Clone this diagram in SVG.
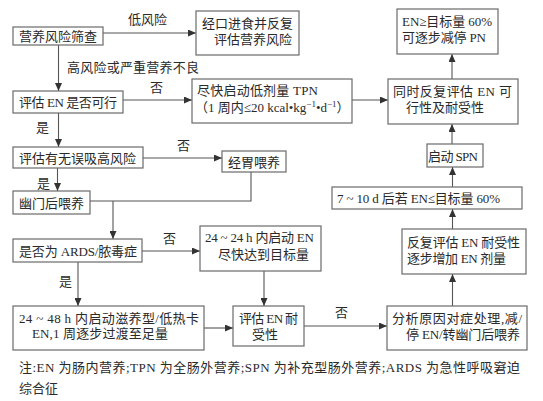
<svg xmlns="http://www.w3.org/2000/svg" width="543" height="401" viewBox="0 0 543 401">
<defs>
<marker id="arr" markerUnits="userSpaceOnUse" markerWidth="8" markerHeight="7" refX="8" refY="3.5" orient="auto">
<path d="M0,0 L8,3.5 L0,7 z" fill="#333"/>
</marker>
<style>
.box{fill:#fff;stroke:#6a6a6a;stroke-width:1.2}
.t{font-family:"Liberation Serif","Noto Sans CJK SC",serif;font-size:13px;fill:#2a2a2a}
.ln{fill:none;stroke:#555;stroke-width:1.1}
.ar{marker-end:url(#arr)}
</style>
</defs>
<rect width="543" height="401" fill="#fff"/>
<g id="connectors">
<path class="ln ar" d="M103,33 H196"/>
<path class="ln ar" d="M58.5,45 V91"/>
<path class="ln ar" d="M123,100 H192"/>
<path class="ln ar" d="M352,100 H388"/>
<path class="ln ar" d="M452,79 V54"/>
<path class="ln ar" d="M58.5,113 V147"/>
<path class="ln ar" d="M143,158 H222"/>
<path class="ln ar" d="M57.5,168 V191"/>
<path class="ln" d="M251,172 V201 H90"/>
<path class="ln ar" d="M113,201 V239"/>
<path class="ln ar" d="M142,251 H200"/>
<path class="ln ar" d="M78,262 V306"/>
<path class="ln ar" d="M264,271 V306"/>
<path class="ln ar" d="M204,328 H233"/>
<path class="ln ar" d="M304,326 H387"/>
<path class="ln ar" d="M452.5,306 V274"/>
<path class="ln ar" d="M452.5,229 V209"/>
<path class="ln ar" d="M452.5,187 V167"/>
<path class="ln ar" d="M452,144 V124"/>
<text class="t" x="128" y="24">低风险</text>
<text class="t" x="67" y="72" textLength="132" lengthAdjust="spacing">高风险或严重营养不良</text>
<text class="t" x="150" y="92">否</text>
<text class="t" x="36" y="132">是</text>
<text class="t" x="177" y="150">否</text>
<text class="t" x="37" y="188">是</text>
<text class="t" x="163" y="243">否</text>
<text class="t" x="59" y="286">是</text>
<text class="t" x="335" y="317">否</text>
</g>
<g id="n1"><rect class="box" x="13" y="27" width="90" height="18"/><text class="t" x="19" y="40.5">营养风险筛查</text></g>
<g id="n2"><rect class="box" x="196" y="11" width="103" height="44"/><text class="t" x="202" y="27.5">经口进食并反复</text><text class="t" x="214" y="44">评估营养风险</text></g>
<g id="n3"><rect class="box" x="13" y="91" width="110" height="22"/><text class="t" x="19" y="106.5" textLength="98" lengthAdjust="spacing">评估 EN 是否可行</text></g>
<g id="n4"><rect class="box" x="192" y="79" width="160" height="44"/><text class="t" x="197" y="95" textLength="121" lengthAdjust="spacing">尽快启动低剂量 TPN</text><text class="t" x="195" y="112">（1 周内≤20 kcal•kg<tspan font-size="9" dy="-5">−1</tspan><tspan dy="5">•d</tspan><tspan font-size="9" dy="-5">−1</tspan><tspan dy="5">）</tspan></text></g>
<g id="n5"><rect class="box" x="397" y="9" width="101" height="45"/><text class="t" x="402" y="26" textLength="90" lengthAdjust="spacing">EN≥目标量 60%</text><text class="t" x="402" y="42" textLength="84" lengthAdjust="spacing">可逐步减停 PN</text></g>
<g id="n6"><rect class="box" x="388" y="79" width="130" height="45"/><text class="t" x="393" y="95.5" textLength="119" lengthAdjust="spacing">同时反复评估 EN 可</text><text class="t" x="406" y="111.5">行性及耐受性</text></g>
<g id="n7"><rect class="box" x="13" y="147" width="130" height="21"/><text class="t" x="19" y="162.5">评估有无误吸高风险</text></g>
<g id="n8"><rect class="box" x="222" y="151" width="64" height="21"/><text class="t" x="228" y="166.5">经胃喂养</text></g>
<g id="n9"><rect class="box" x="13" y="191" width="77" height="23"/><text class="t" x="19" y="207.5">幽门后喂养</text></g>
<g id="n10"><rect class="box" x="13" y="239" width="129" height="23"/><text class="t" x="19" y="255.5" textLength="118" lengthAdjust="spacing">是否为 ARDS/脓毒症</text></g>
<g id="n11"><rect class="box" x="200" y="226" width="121" height="45"/><text class="t" x="205" y="241.5" textLength="109" lengthAdjust="spacing">24 ~ 24 h 内启动 EN</text><text class="t" x="218" y="259">尽快达到目标量</text></g>
<g id="n12"><rect class="box" x="427" y="144" width="56" height="23"/><text class="t" x="428" y="160.5" textLength="50" lengthAdjust="spacing">启动 SPN</text></g>
<g id="n13"><rect class="box" x="332" y="187" width="190" height="22"/><text class="t" x="337" y="203" textLength="163" lengthAdjust="spacing">7 ~ 10 d 后若 EN≤目标量 60%</text></g>
<g id="n14"><rect class="box" x="402" y="229" width="124" height="45"/><text class="t" x="407" y="246.5" textLength="113" lengthAdjust="spacing">反复评估 EN 耐受性</text><text class="t" x="407" y="262.5" textLength="99" lengthAdjust="spacing">逐步增加 EN 剂量</text></g>
<g id="n15"><rect class="box" x="13" y="306" width="191" height="44"/><text class="t" x="19" y="322.5" textLength="180" lengthAdjust="spacing">24 ~ 48 h 内启动滋养型/低热卡</text><text class="t" x="32" y="338" textLength="136" lengthAdjust="spacing">EN,1 周逐步过渡至足量</text></g>
<g id="n16"><rect class="box" x="233" y="306" width="71" height="40"/><text class="t" x="239" y="322.5" textLength="59" lengthAdjust="spacing">评估 EN 耐</text><text class="t" x="252" y="339">受性</text></g>
<g id="n17"><rect class="box" x="387" y="306" width="140" height="44"/><text class="t" x="392" y="322.5" textLength="130" lengthAdjust="spacing">分析原因对症处理,减/</text><text class="t" x="406" y="339" textLength="114" lengthAdjust="spacing">停 EN/转幽门后喂养</text></g>
<g id="note">
<text class="t" x="19" y="371.5" textLength="501" lengthAdjust="spacing">注:EN 为肠内营养;TPN 为全肠外营养;SPN 为补充型肠外营养;ARDS 为急性呼吸窘迫</text>
<text class="t" x="19" y="392.5">综合征</text>
</g>
</svg>
